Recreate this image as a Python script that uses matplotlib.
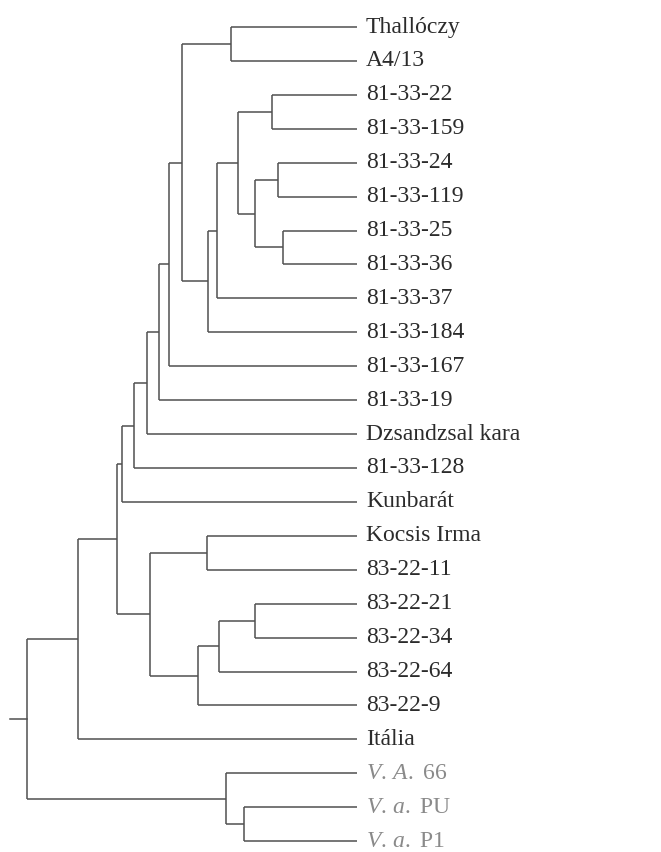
import matplotlib
matplotlib.use("Agg")
import matplotlib.pyplot as plt

# ===== 데이터: 잎(위→아래) 과 병합(왼쪽, 오른쪽, 거리) =====
leaves = ["Thallóczy", "A4/13", "81-33-22", "81-33-159", "81-33-24",
          "81-33-119", "81-33-25", "81-33-36", "81-33-37", "81-33-184",
          "81-33-167", "81-33-19", "Dzsandzsal kara", "81-33-128",
          "Kunbarát", "Kocsis Irma", "83-22-11", "83-22-21", "83-22-34",
          "83-22-64", "83-22-9", "Itália",
          r"$\mathit{V.\,A.}$ 66", r"$\mathit{V.\,a.}$ PU", r"$\mathit{V.\,a.}$ P1"]
outgroup = [22, 23, 24]   # 회색 글씨

# 노드 번호: 잎 0..24, 내부 노드 25부터 순서대로
merges = [
    (0, 1, 1.26), (2, 3, 0.85), (4, 5, 0.79), (6, 7, 0.74),
    (27, 28, 1.02), (26, 29, 1.19), (30, 8, 1.40), (31, 9, 1.49),
    (25, 32, 1.75), (33, 10, 1.88), (34, 11, 1.98), (35, 12, 2.10),
    (36, 13, 2.23), (37, 14, 2.35), (15, 16, 1.50), (17, 18, 1.02),
    (40, 19, 1.38), (41, 20, 1.59), (39, 42, 2.07), (38, 43, 2.40),
    (44, 21, 2.79), (23, 24, 1.13), (22, 46, 1.31), (45, 47, 3.30),
]
root_stem = 0.17

plt.rcParams["mathtext.fontset"] = "custom"
plt.rcParams["mathtext.rm"] = "Liberation Serif"
plt.rcParams["mathtext.it"] = "Liberation Serif:italic"

fig = plt.figure(figsize=(6.61, 8.52), dpi=100)
ax = fig.add_axes([0, 0, 1, 1])
ax.set_xlim(3.57, -3.04)
ax.set_ylim(24.32, -0.796)
ax.axis("off")

LC = "#505050"
LW = 1.1

ypos = {i: float(i) for i in range(len(leaves))}
hpos = {i: 0.0 for i in range(len(leaves))}
for k, (a, b, h) in enumerate(merges):
    node = len(leaves) + k
    ax.plot([h, h], [ypos[a], ypos[b]], color=LC, lw=LW, solid_capstyle="butt")
    for c in (a, b):
        ax.plot([h, hpos[c]], [ypos[c], ypos[c]], color=LC, lw=LW,
                solid_capstyle="butt")
    ypos[node] = (ypos[a] + ypos[b]) / 2
    hpos[node] = h

root = len(leaves) + len(merges) - 1
ax.plot([hpos[root] + root_stem, hpos[root]], [ypos[root], ypos[root]],
        color=LC, lw=LW)

for i, name in enumerate(leaves):
    col = "#8a8a8a" if i in outgroup else "#2b2b2b"
    ax.text(-0.09, i, name, ha="left", va="center", fontsize=17,
            family="Liberation Serif", color=col)

fig.savefig("out.png", dpi=100, facecolor="white")
